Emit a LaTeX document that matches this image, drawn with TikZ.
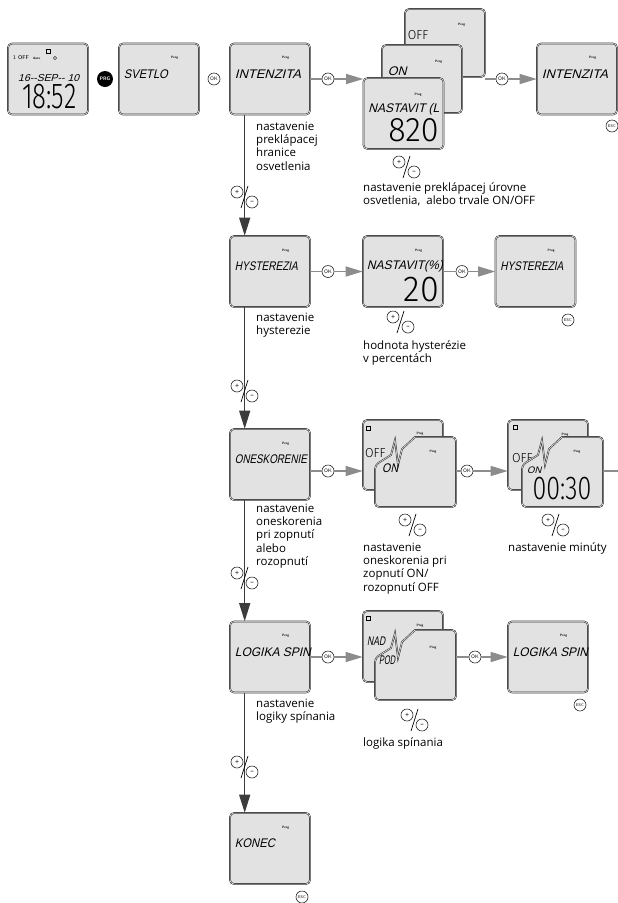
\documentclass[tikz,border=0pt]{standalone}
\usepackage{fontspec}
\setmainfont{Open Sans}
\newfontfamily\lcdfont[FakeSlant=0.25]{Liberation Sans}
\newfontfamily\segfont[FakeStretch=0.95]{Fira Sans Light}
\usetikzlibrary{arrows.meta,calc}
\definecolor{lcdgray}{HTML}{E2E2E2}
\definecolor{arrowgray}{HTML}{8C8C8C}
\definecolor{linedark}{HTML}{3C3C3C}
\newcommand\lcdfit[2]{\resizebox{#1pt}{\height}{#2}}
\tikzset{
  cardline/.style={draw=black!80, double=white, double distance=0.5pt, line width=0.6pt, fill=lcdgray},
  disp/.style={cardline, rounded corners=4pt, minimum width=80pt, minimum height=71pt, inner sep=0pt},
  prog/.style={font=\sffamily\bfseries\fontsize{3.2}{3.5}\selectfont, inner sep=0pt},
  lcd/.style={font=\lcdfont\fontsize{12.5}{12.5}\selectfont, anchor=west, inner sep=0pt},
  seg/.style={font=\segfont\fontsize{36}{36}\selectfont, inner sep=0pt},
  btn/.style={circle, draw=black!85, line width=0.6pt, fill=white, minimum size=12pt, inner sep=0pt, font=\sffamily\fontsize{5}{5}\selectfont},
  escbtn/.style={btn, font=\sffamily\fontsize{4}{4}\selectfont},
  prgbtn/.style={circle, fill=black, text=white, minimum size=16pt, inner sep=0pt, font=\sffamily\bfseries\fontsize{5}{5}\selectfont},
  hline/.style={draw=arrowgray, line width=1.3pt},
  harrow/.style={hline, -{Triangle[length=17pt,width=10pt]}},
  vline/.style={draw=linedark, line width=1.3pt, -{Triangle[length=18pt,width=11pt]}},
  note/.style={font=\fontsize{11.5}{13.3}\selectfont, align=left, anchor=north west, inner sep=0pt},
  icon/.style={draw=black, line width=0.5pt, minimum size=4.5pt, inner sep=0pt},
  pics/frontcard/.style={code={
    \path[cardline] (0,45) [rounded corners=4pt] -- (0,28) [sharp corners] -- (16,18) -- (20,3) -- (23,28) -- (27,12) -- (40,0) [rounded corners=4pt] -- (81,0) -- (81,70) -- (0,70) -- cycle;
  }},
  pics/plusminus/.style={code={
    \node[btn, font=\fontsize{7}{7}\selectfont] at (-8,-5) {+};
    \node[btn, font=\fontsize{7}{7}\selectfont] at (7,5) {–};
    \draw[line width=0.7pt] (3,-11) -- (-4,11);
  }}
}
\begin{document}
\begin{tikzpicture}[x=1pt,y=-1pt]
\useasboundingbox (0,0) rectangle (618,903);

% clock display
\node[disp] (clock) at (48,79) {};
\node[icon] at (48,51) {};
\node[font=\sffamily\fontsize{5.5}{6}\selectfont, anchor=west, inner sep=0pt] at (13,58) {1 OFF};
\node[prog, anchor=west] at (33,58) {Auto};
\draw[line width=0.4pt] (55,58) circle (1.6pt);
\node[lcd, font=\lcdfont\fontsize{10}{10}\selectfont] at (18,78) {\lcdfit{61}{16{-}{-}SEP{-}{-} 10}};
\node[seg, anchor=west] at (22,97) {\scalebox{0.75}[1]{18:52}};
\node[prgbtn] (prg) at (105,79) {PRG};
\node[btn] (ok1) at (214,79) {OK};

% plain displays
\foreach \nm/\cx/\cy/\w/\txt in {svetlo/159/79/44/SVETLO, intA/270/79/66/INTENZITA, intB/577/79/66/INTENZITA,
    hyst/270/271.5/63/HYSTEREZIA, hystB/535.5/271.5/63/HYSTEREZIA, onesk/270/464.5/72/ONESKORENIE,
    logika/270/657/76/LOGIKA SPIN, logikaB/548/657/75/LOGIKA SPIN, konec/270/848.5/40/KONEC}{
  \node[disp] (\nm) at (\cx,\cy) {};
  \node[prog] at ($(\nm.north west)+(56,15)$) {Prog};
  \node[lcd] at ($(\nm.west)+(5,-5)$) {\lcdfit{\w}{\txt}};
}

% main column
\draw[vline] ($(intA.south west)+(15,0)$) -- ($(hyst.north west)+(15,0)$);
\draw[vline] ($(hyst.south west)+(15,0)$) -- ($(onesk.north west)+(15,0)$);
\draw[vline] ($(onesk.south west)+(15,0)$) -- ($(logika.north west)+(15,0)$);
\draw[vline] ($(logika.south west)+(15,0)$) -- ($(konec.north west)+(15,0)$);
\pic at (245,197) {plusminus};
\pic at (245,391) {plusminus};
\pic at (245,578) {plusminus};
\pic at (245,767) {plusminus};

% row 1
\node[disp, minimum height=68pt] (off) at (445,43) {};
\node[prog] at ($(off.north west)+(57,16)$) {Prog};
\node[font=\segfont\fontsize{13}{13}\selectfont, anchor=west, inner sep=0pt] at ($(off.west)+(3,-8)$) {OFF};
\node[disp, minimum height=68pt] (on) at (422,79) {};
\node[prog] at ($(on.north west)+(57,17)$) {Prog};
\node[lcd] at ($(on.west)+(6,-8)$) {ON};
\node[disp] (nastavit) at (403.5,113.5) {};
\node[prog] at ($(nastavit.north west)+(55,17)$) {Prog};
\node[lcd] at ($(nastavit.west)+(5,-4.5)$) {\lcdfit{71}{NASTAVIT (L}};
\node[seg, anchor=east, font=\segfont\fontsize{34}{34}\selectfont] at ($(nastavit.east)+(-5,17)$) {820};
\node[btn] (ok2) at (328,79) {OK};
\node[btn] (ok3) at (502,79) {OK};
\draw[hline] (intA) -- (ok2);
\draw[harrow] (ok2) -- (nastavit.west |- ok2);
\draw[hline] (off.south east |- ok3) -- (ok3);
\draw[harrow] (ok3) -- (intB);
\node[escbtn] (esc1) at (612,126) {ESC};
\pic at (407,167) {plusminus};
\node[note] at (256,120.7) {\strut nastavenie\\preklápacej\\hranice\\osvetlenia};
\node[note] at (363,181.7) {\strut nastavenie preklápacej úrovne\\osvetlenia,~ alebo trvale ON/OFF};

% row 2
\node[disp] (nastH) at (403,271.5) {};
\node[prog] at ($(nastH.north west)+(56,15)$) {Prog};
\node[lcd] at ($(nastH.west)+(4,-5)$) {\lcdfit{76}{NASTAVIT(\%)}};
\node[seg, anchor=east] at ($(nastH.east)+(-4,18)$) {20};
\node[btn] (ok4) at (328,271.5) {OK};
\node[btn] (ok5) at (462,271.5) {OK};
\draw[hline] (hyst) -- (ok4);
\draw[harrow] (ok4) -- (nastH);
\draw[hline] (nastH) -- (ok5);
\draw[harrow] (ok5) -- (hystB);
\node[escbtn] (esc2) at (568,320) {ESC};
\pic at (401,322) {plusminus};
\node[note] at (256,311.7) {\strut nastavenie\\hysterezie};
\node[note] at (363,339.7) {\strut hodnota hysterézie\\v percentách};

% row 3
\node[disp, minimum height=70pt] (back3a) at (403,455) {};
\node[icon] at (368,428) {};
\node[prog] at (420,434) {Prog};
\node[font=\segfont\fontsize{13}{13}\selectfont, anchor=west, inner sep=0pt] at (365,453) {OFF};
\pic at (375,437) {frontcard};
\node[prog] at (433,452) {Prog};
\node[lcd] at (382,468) {\lcdfit{16}{ON}};
\coordinate (front3a) at (456,471);
\node[disp, minimum height=70pt] (back3b) at (548,455) {};
\node[icon] at (515,427) {};
\node[prog] at (565,435) {Prog};
\node[font=\segfont\fontsize{13}{13}\selectfont, anchor=west, inner sep=0pt] at (512,458) {OFF};
\pic at (522,437) {frontcard};
\node[prog] at (577,452) {Prog};
\node[lcd, font=\lcdfont\fontsize{9.5}{9.5}\selectfont] at (527,470) {ON};
\node[seg, font=\segfont\fontsize{33}{33}\selectfont] at (562,489) {\scalebox{0.8}[1]{00:30}};
\coordinate (front3b) at (603,471);
\node[btn] (ok6) at (328,471) {OK};
\node[btn] (ok7) at (467,471) {OK};
\node[btn] (ok8) at (624,471) {OK};
\draw[hline] (onesk.east |- ok6) -- (ok6);
\draw[harrow] (ok6) -- (back3a.west |- ok6);
\draw[hline] (front3a) -- (ok7);
\draw[harrow] (ok7) -- (back3b.west |- ok7);
\draw[hline] (front3b) -- (ok8);
\pic at (413,525) {plusminus};
\pic at (556,525) {plusminus};
\node[note] at (256,502.7) {\strut nastavenie\\oneskorenia\\pri zopnutí\\alebo\\rozopnutí};
\node[note] at (363,541.7) {\strut nastavenie\\oneskorenia pri\\zopnutí ON/\\rozopnutí OFF};
\node[note] at (508,541.7) {\strut nastavenie minúty};

% row 4
\node[disp] (back4) at (403,646.5) {};
\node[icon] at (368,618) {};
\node[prog] at (420,626) {Prog};
\node[lcd] at (367,641) {\lcdfit{18}{NAD}};
\pic at (375,630) {frontcard};
\node[prog] at (433,648) {Prog};
\node[lcd] at (379,660) {\lcdfit{16}{POD}};
\coordinate (front4) at (456,657);
\node[btn] (ok9) at (328,657) {OK};
\node[btn] (ok10) at (475,657) {OK};
\draw[hline] (logika) -- (ok9);
\draw[harrow] (ok9) -- (back4.west |- ok9);
\draw[hline] (front4) -- (ok10);
\draw[harrow] (ok10) -- (logikaB);
\node[escbtn] (esc3) at (580,705) {ESC};
\pic at (415,720) {plusminus};
\node[note] at (256,697.7) {\strut nastavenie\\logiky spínania};
\node[note] at (363,736.7) {\strut logika spínania};

% row 5
\node[escbtn] (esc4) at (302,897) {ESC};
\end{tikzpicture}
\end{document}
